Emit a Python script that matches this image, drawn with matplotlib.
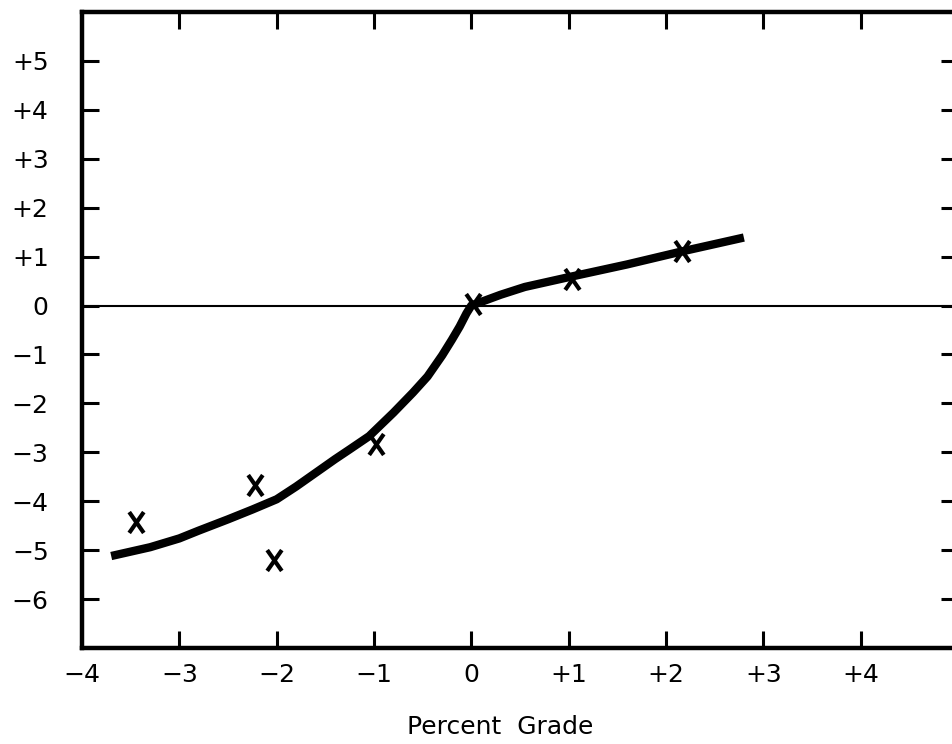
import numpy as np
import matplotlib
matplotlib.use('Agg')
import matplotlib.pyplot as plt
from matplotlib.path import Path

# smooth curve
curve_x = [-3.7, -3.3, -3.0, -2.8, -2.5, -2.25, -2.0, -1.8, -1.6, -1.4, -1.25, -1.05, -0.8, -0.6,
           -0.45, -0.3, -0.2, -0.12, -0.05, 0.0, 0.3, 0.55, 1.0, 1.6, 2.15, 2.8]
curve_y = [-5.12, -4.94, -4.76, -4.60, -4.37, -4.17, -3.96, -3.70, -3.42, -3.14, -2.94, -2.67, -2.19, -1.78,
           -1.45, -1.02, -0.70, -0.43, -0.16, 0.0, 0.22, 0.38, 0.58, 0.84, 1.10, 1.39]

# measured points (x marks)
pts_x = [-3.45, -2.22, -2.03, -0.98, 0.02, 1.03, 2.16]
pts_y = [-4.43, -3.67, -5.2, -2.84, 0.04, 0.55, 1.12]

xticks = [-4, -3, -2, -1, 0, 1, 2, 3, 4]
xticklabels = ['\u22124', '\u22123', '\u22122', '\u22121', '0', '+1', '+2', '+3', '+4']
yticks = [-6, -5, -4, -3, -2, -1, 0, 1, 2, 3, 4, 5]
yticklabels = ['\u22126', '\u22125', '\u22124', '\u22123', '\u22122', '\u22121', '0', '+1', '+2', '+3', '+4', '+5']

plt.rcParams['font.family'] = ['DejaVu Sans']

fig = plt.figure(figsize=(9.52, 7.44), dpi=100)
ax = fig.add_axes([82 / 952, 1 - 648 / 744, 876 / 952, 636 / 744])

ax.axhline(0, color='black', lw=1.5, zorder=1)
ax.plot(curve_x, curve_y, color='black', lw=6, solid_capstyle='butt', solid_joinstyle='round', zorder=2)

xmark = Path([(-0.35, -0.5), (0.35, 0.5), (-0.35, 0.5), (0.35, -0.5)],
             [Path.MOVETO, Path.LINETO, Path.MOVETO, Path.LINETO])
ax.plot(pts_x, pts_y, ls='none', marker=xmark, ms=15, mew=3, color='black', zorder=3)

ax.set_xlim(-4, 5)
ax.set_ylim(-7, 6)

for s in ['left', 'bottom', 'top']:
    ax.spines[s].set_linewidth(3.2)
ax.spines['right'].set_visible(False)

ax.set_xticks(xticks)
ax.set_xticklabels(xticklabels)
ax.set_yticks(yticks)
ax.set_yticklabels(yticklabels)
ax.tick_params(axis='both', direction='in', length=12, width=2.2, labelsize=18,
               top=True, right=True)
ax.tick_params(axis='y', pad=24)
ax.tick_params(axis='x', pad=11)
# no tick drawn at the -4 corner
ax.xaxis.get_major_ticks()[0].tick1line.set_visible(False)
ax.xaxis.get_major_ticks()[0].tick2line.set_visible(False)

fig.text(500 / 952, 1 - 727 / 744, 'Percent  Grade', ha='center', va='center', fontsize=18)

fig.savefig('out.png', dpi=100)
